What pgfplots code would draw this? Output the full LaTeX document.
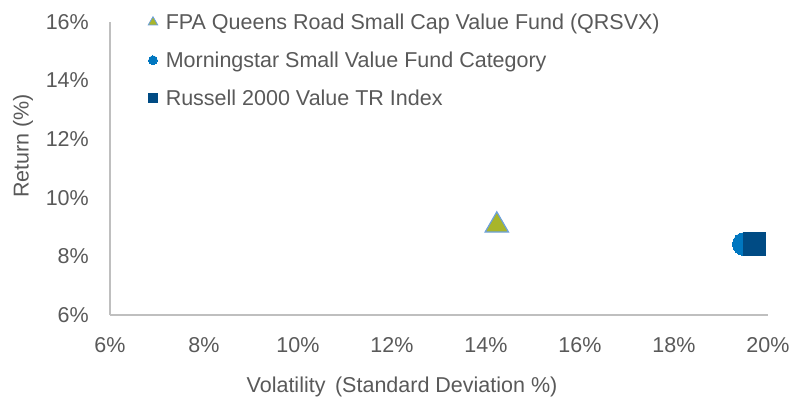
\documentclass[border=0pt]{standalone}
\usepackage{pgfplots}
\pgfplotsset{compat=1.18}
\usepackage{fontspec}
\setmainfont{Liberation Sans}
\definecolor{txt}{HTML}{595959}
\definecolor{axgray}{HTML}{BFBFBF}
\definecolor{trifill}{HTML}{A8B52B}
\definecolor{triedge}{HTML}{6CA0DC}
\definecolor{circ}{HTML}{0077C0}
\definecolor{sq}{HTML}{004B84}
\newcommand{\chartfont}{\fontsize{21.5}{24}\selectfont}
\begin{document}
\begin{tikzpicture}
\useasboundingbox (-110pt,-89pt) rectangle (697pt,315pt);
\begin{axis}[
  scale only axis, width=658pt, height=293pt,
  xmin=6, xmax=20, ymin=6, ymax=16,
  xtick={6,8,...,20}, ytick={6,8,...,16},
  axis x line*=bottom, axis y line*=left,
  axis line style={axgray, line width=1.3pt},
  major tick length=0pt,
  clip=false,
  /pgf/number format/assume math mode=true,
  tick label style={font=\chartfont, text=txt},
  xticklabel={\pgfmathprintnumber{\tick}\%},
  yticklabel={\pgfmathprintnumber{\tick}\%},
  xticklabel style={anchor=center, yshift=-30pt, inner sep=0pt},
  yticklabel style={anchor=east, xshift=-21pt, inner sep=0pt},
  xlabel={Volatility \,(Standard Deviation \%)},
  ylabel={Return (\%)},
  label style={font=\chartfont, text=txt},
  xlabel style={at={(rel axis cs:0.4438,-0.2457)}, anchor=center},
  ylabel style={at={(rel axis cs:-0.1322,0.5768)}, anchor=center},
  legend cell align=left,
  legend style={at={(rel axis cs:0.0578,1.0263)}, anchor=north west,
    draw=none, fill=none, inner sep=0pt, row sep=22.6pt, column sep=8pt,
    font=\chartfont, text=txt,
    nodes={inner sep=0pt, text height=15.4pt, text depth=0pt}},
]
\addplot[only marks, mark=triangle*, mark size=13.5pt,
  mark options={fill=trifill, draw=triedge, line width=1.2pt},
  legend image code/.code={\draw[mark=triangle*, mark size=5.5pt, mark options={fill=trifill, draw=triedge, line width=0.8pt}] plot coordinates {(0pt,0pt)};}]
  coordinates {(14.23,9.06)};
\addlegendentry{FPA Queens Road Small Cap Value Fund (QRSVX)}
\addplot[only marks, mark=*, mark size=11.5pt,
  mark options={fill=circ, draw=circ, line width=0pt},
  legend image code/.code={\draw[mark=*, mark size=4.4pt, mark options={fill=circ, draw=circ, line width=0pt}] plot coordinates {(0pt,0pt)};}]
  coordinates {(19.49,8.42)};
\addlegendentry{Morningstar Small Value Fund Category}
\addplot[only marks, mark=square*, mark size=11.3pt,
  mark options={fill=sq, draw=sq, line width=0pt},
  legend image code/.code={\draw[mark=square*, mark size=4.4pt, mark options={fill=sq, draw=sq, line width=0pt}] plot coordinates {(0pt,0pt)};}]
  coordinates {(19.71,8.42)};
\addlegendentry{Russell 2000 Value TR Index}
\end{axis}
\end{tikzpicture}
\end{document}
